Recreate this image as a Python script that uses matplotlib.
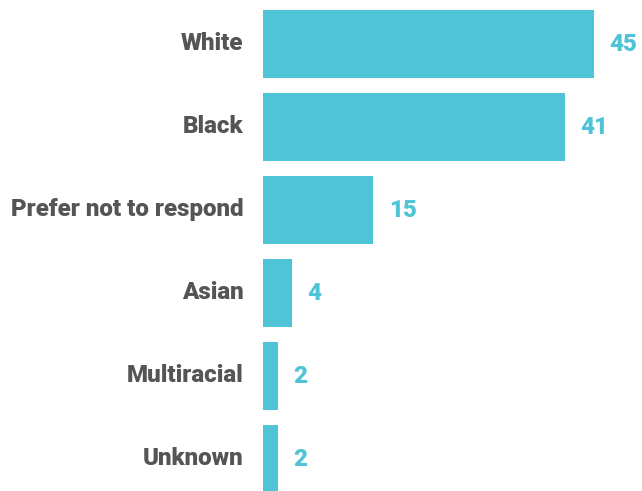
import matplotlib.pyplot as plt
import matplotlib.transforms as mtransforms

# Data
categories = ['White', 'Black', 'Prefer not to respond', 'Asian', 'Multiracial', 'Unknown']
values = [45, 41, 15, 4, 2, 2]

bar_color = '#4fc4d6'
label_color = '#555555'
font = ['Roboto', 'DejaVu Sans']

fig = plt.figure(figsize=(6.42, 4.91), dpi=100)
ax = fig.add_axes([263 / 642, 0, 1 - 263 / 642, 1])

positions = list(range(len(categories)))
bars = ax.barh(positions, values, height=0.82, color=bar_color)

ax.set_xlim(0, 51.5)
ax.set_ylim(5.386, -0.53)

ax.set_yticks(positions)
ax.set_yticklabels(categories, fontsize=17.4, fontweight=900, color=label_color, family=font)
ax.tick_params(axis='y', length=0, pad=14)
shift = mtransforms.ScaledTranslation(0, 3 / 100, fig.dpi_scale_trans)
for lbl in ax.get_yticklabels():
    lbl.set_va('center_baseline')
    lbl.set_transform(lbl.get_transform() + shift)
ax.set_xticks([])
for s in ax.spines.values():
    s.set_visible(False)

# Value labels
for bar, v in zip(bars, values):
    ax.annotate(f'{v}', (bar.get_width(), bar.get_y() + bar.get_height() / 2),
                xytext=(11, 1.5), textcoords='offset points', ha='left', va='center_baseline',
                fontsize=17.4, fontweight=900, color=bar_color, family=font)

plt.savefig('out.png', dpi=100)
